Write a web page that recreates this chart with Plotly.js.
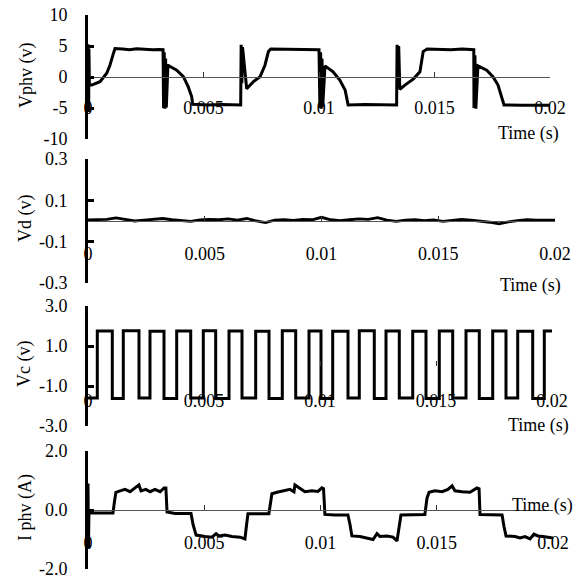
<!DOCTYPE html>
<html>
<head>
<meta charset="utf-8">
<script src="https://cdn.plot.ly/plotly-3.0.1.min.js"></script>
<style>html,body{margin:0;padding:0;background:#fff;}#chart{width:584px;height:579px;}</style>
</head>
<body>
<div id="chart"></div>
<script>
// ---------- data ----------
const xTickVals = [0, 0.005, 0.01, 0.015, 0.02];
const xTickText = ['0', '0.005', '0.01', '0.015', '0.02'];

const yTitles = ['Vphv (v)', 'Vd (v)', 'Vc (v)', 'I phv (A)'];
const xTitle = 'Time (s)';

const vphvTickVals = [-10, -5, 0, 5, 10];
const vphvTickText = ['-10', '-5', '0', '5', '10'];
const vdTickVals = [-0.3, -0.1, 0.1, 0.3];
const vdTickText = ['-0.3', '-0.1', '0.1', '0.3'];
const vcTickVals = [-3, -1, 1, 3];
const vcTickText = ['-3.0', '-1.0', '1.0', '3.0'];
const iTickVals = [-2, 0, 2];
const iTickText = ['-2.0', '0.0', '2.0'];

// Phase voltage Vphv (v)
const vphvT = [0, 0.00001, 0.00002, 0.00003, 0.00004, 0.00006, 0.00016, 0.00052, 0.00081, 0.00095, 0.0011, 0.00117,
  0.0015, 0.0018, 0.0021, 0.0024, 0.0028, 0.0031, 0.00325, 0.00327, 0.0033, 0.00333, 0.00336, 0.00339,
  0.00346, 0.00384, 0.00413, 0.00434, 0.00449, 0.00453, 0.0052, 0.0058, 0.0065, 0.00661,
  0.00663, 0.00666, 0.00669, 0.00687, 0.00716, 0.00745, 0.00766, 0.00781, 0.00791,
  0.0085, 0.009, 0.0095, 0.01, 0.01004, 0.01007, 0.0101, 0.01013, 0.01016, 0.01026,
  0.01061, 0.0109, 0.01113, 0.0112, 0.01126, 0.012, 0.0128, 0.01336,
  0.01338, 0.01342, 0.01345, 0.0135, 0.01372, 0.01409, 0.01437, 0.01445, 0.01451, 0.01468,
  0.0152, 0.0157, 0.0162, 0.0167, 0.01671, 0.01675, 0.01679, 0.01683, 0.01688,
  0.01726, 0.01753, 0.01775, 0.01791, 0.01801, 0.0188, 0.0195, 0.02];
const vphvV = [5.3, -5.6, 5.0, -5.4, 4.6, -1.3, -1.3, -0.75, 0.6, 1.9, 3.8, 4.6,
  4.5, 4.4, 4.55, 4.45, 4.4, 4.45, 4.4, -5.0, 4.0, -5.1, 3.0, -4.9,
  1.9, 1.1, 0.05, -1.6, -3.2, -4.4, -4.5, -4.45, -4.5, -4.5,
  5.2, -1.0, 4.8, -1.9, -0.75, 0.05, 1.9, 4.1, 4.5,
  4.5, 4.4, 4.5, 4.4, -5.0, 4.0, -5.1, 3.0, -4.8, 1.8,
  0.85, -0.5, -2.1, -3.7, -4.5, -4.45, -4.5, -4.5,
  5.2, -1.0, 5.0, -2.0, -1.3, -0.3, 0.85, 2.5, 4.1, 4.5,
  4.45, 4.4, 4.5, 4.4, -5.0, 3.5, -5.1, -2.0, 1.8,
  1.1, 0.05, -1.3, -3.2, -4.5, -4.55, -4.5, -4.55];

// Vd (v)
const vdT = [0, 0.0004, 0.0008, 0.0012, 0.0016, 0.002, 0.0024, 0.0028, 0.0032, 0.0036,
  0.004, 0.0044, 0.0048, 0.0052, 0.0056, 0.006, 0.0064, 0.0068, 0.0072, 0.0076,
  0.008, 0.0084, 0.0088, 0.0092, 0.0096, 0.01, 0.0104, 0.0108, 0.0112, 0.0116,
  0.012, 0.0124, 0.0128, 0.0132, 0.0136, 0.014, 0.0144, 0.0148, 0.0152, 0.0156,
  0.016, 0.0164, 0.0168, 0.0172, 0.0176, 0.018, 0.0184, 0.0188, 0.0192, 0.0196, 0.02];
const vdV = [0.005, 0.005, 0.008, 0.015, 0.006, 0.0, 0.004, 0.008, 0.012, 0.006,
  0.002, -0.002, 0.005, 0.008, 0.006, 0.01, 0.004, 0.012, 0.0, -0.008,
  0.004, 0.006, 0.003, 0.008, 0.006, 0.018, 0.006, 0.002, 0.006, 0.01,
  0.008, 0.016, 0.004, -0.002, 0.004, 0.006, 0.002, 0.005, -0.002, 0.004,
  0.008, 0.004, 0.0, -0.006, -0.014, -0.004, 0.002, 0.006, 0.004, 0.003, 0.004];

// Vc (v) — switching instants and levels (drawn as steps)
const vcT = [0, 0.000401, 0.001047, 0.001521, 0.002198, 0.002672, 0.003276, 0.003823, 0.004427, 0.00497,
  0.005504, 0.006078, 0.006638, 0.007228, 0.007802, 0.008375, 0.008953, 0.009526, 0.010043, 0.010547,
  0.011207, 0.011694, 0.01234, 0.012845, 0.013418, 0.013996, 0.014569, 0.015142, 0.01572, 0.016293,
  0.016866, 0.017444, 0.018017, 0.018522, 0.019168, 0.019668, 0.02];
const vcV = [-1.6, 1.75, -1.62, 1.76, -1.6, 1.74, -1.62, 1.75, -1.6, 1.76,
  -1.63, 1.75, -1.6, 1.74, -1.62, 1.76, -1.6, 1.75, -1.62, 1.74,
  -1.6, 1.76, -1.62, 1.75, -1.6, 1.74, -1.63, 1.75, -1.6, 1.76,
  -1.62, 1.75, -1.6, 1.74, -1.62, 1.75, 1.75];

// I phv (A)
const iT = [0, 0.00002, 0.00004, 0.00013, 0.001075, 0.00114, 0.0012, 0.00138, 0.00159, 0.00181, 0.00202, 0.00219,
  0.00228, 0.00249, 0.00267, 0.00288, 0.0031, 0.00327, 0.00335, 0.0034, 0.00374, 0.00443, 0.00452, 0.00465,
  0.00503, 0.00533, 0.00551, 0.00563, 0.00589, 0.00619, 0.00654, 0.00675, 0.00682, 0.00688, 0.00778,
  0.00785, 0.00791, 0.00813, 0.00839, 0.00869, 0.00886, 0.0089, 0.00933, 0.00963, 0.00989, 0.01006,
  0.01013, 0.01019, 0.01062, 0.01118, 0.01127, 0.01135, 0.0117, 0.01204, 0.01226, 0.01243, 0.01256,
  0.01286, 0.01312, 0.01329, 0.01338, 0.01346, 0.01449, 0.01458, 0.01467, 0.01492, 0.01523, 0.01548,
  0.01566, 0.01578, 0.01609, 0.01643, 0.01673, 0.01682, 0.01686, 0.01729, 0.01781, 0.01789, 0.01798,
  0.01837, 0.01858, 0.0188, 0.01901, 0.01918, 0.01935, 0.01957, 0.01978, 0.02];
const iV = [0.9, -1.3, -0.1, -0.1, -0.1, 0.3, 0.6, 0.65, 0.7, 0.62, 0.75, 0.85,
  0.65, 0.7, 0.62, 0.7, 0.62, 0.75, 0.75, -0.07, -0.12, -0.12, -0.5, -0.85,
  -0.9, -0.92, -0.8, -0.88, -0.85, -0.9, -0.92, -0.98, -0.5, -0.13, -0.13,
  0.35, 0.55, 0.6, 0.65, 0.7, 0.62, 0.85, 0.62, 0.65, 0.63, 0.75,
  0.72, -0.15, -0.17, -0.17, -0.5, -0.88, -0.9, -0.95, -1.0, -0.8, -0.9,
  -0.88, -0.92, -1.05, -0.5, -0.17, -0.15, 0.4, 0.6, 0.65, 0.62, 0.7,
  0.82, 0.65, 0.62, 0.6, 0.75, 0.72, -0.15, -0.17, -0.17, -0.55, -0.88,
  -0.9, -0.95, -0.9, -0.98, -0.82, -0.88, -0.9, -0.93, -0.95];

// ---------- layout helpers ----------
const W = 584, H = 579;
const FONT = 'Liberation Serif, Times New Roman, serif';
const px2fx = p => p / W;
const px2fy = p => 1 - p / H;

// panel boxes in pixels: [left, right, top, bottom]
const boxes = [[88, 550, 15, 139], [88, 555, 159, 283], [88, 552, 306, 426], [88, 553, 451, 569]];
const yRanges = [[-10, 10], [-0.3, 0.3], [-3, 3], [-2, 2]];
const yTicks = [[vphvTickVals, vphvTickText], [vdTickVals, vdTickText], [vcTickVals, vcTickText], [iTickVals, iTickText]];
const xStandoff = [14, 16, 22, 16];
const showXLine = [true, true, false, true];
const timePos = [[528, 133], [530, 285], [538, 425], [542, 505]];
const yTitlePos = [[26, 75], [26, 218], [24, 364], [25, 508]];

const traces = [
  {x: vphvT, y: vphvV, xaxis: 'x', yaxis: 'y', mode: 'lines', line: {color: '#000', width: 3}},
  {x: vdT, y: vdV, xaxis: 'x2', yaxis: 'y2', mode: 'lines', line: {color: '#000', width: 2.8}},
  {x: vcT, y: vcV, xaxis: 'x3', yaxis: 'y3', mode: 'lines', line: {color: '#000', width: 3, shape: 'hv'}},
  {x: iT, y: iV, xaxis: 'x4', yaxis: 'y4', mode: 'lines', line: {color: '#000', width: 3}}
];

const layout = {
  width: W, height: H,
  margin: {l: 0, r: 0, t: 0, b: 0},
  paper_bgcolor: '#fff', plot_bgcolor: 'rgba(0,0,0,0)',
  showlegend: false,
  font: {family: FONT, size: 18, color: '#000'},
  annotations: []
};

boxes.forEach((b, i) => {
  const n = i === 0 ? '' : String(i + 1);
  const yd = [px2fy(b[3]), px2fy(b[2])];
  layout['xaxis' + n] = {
    domain: [px2fx(b[0]), px2fx(b[1])],
    range: [0, 0.02],
    anchor: 'free',
    position: (yd[0] + yd[1]) / 2,
    tickmode: 'array', tickvals: xTickVals, ticktext: xTickText,
    ticks: 'inside', ticklen: 5, tickwidth: 1, tickcolor: '#333',
    showline: showXLine[i], linecolor: '#555', linewidth: 1,
    showgrid: false, zeroline: false,
    ticklabelstandoff: xStandoff[i],
    ticklabeloverflow: 'allow',
    tickfont: {family: FONT, size: 18, color: '#000'},
    fixedrange: true
  };
  layout['yaxis' + n] = {
    domain: yd,
    range: yRanges[i],
    anchor: 'x' + n,
    tickmode: 'array', tickvals: yTicks[i][0], ticktext: yTicks[i][1],
    ticks: 'inside', ticklen: 6, tickwidth: 3, tickcolor: '#000',
    showline: true, linecolor: '#000', linewidth: 3,
    showgrid: false, zeroline: false,
    ticklabelstandoff: 14,
    ticklabeloverflow: 'allow',
    tickfont: {family: FONT, size: 18, color: '#000'},
    fixedrange: true
  };
  layout.annotations.push({
    text: xTitle, xref: 'paper', yref: 'paper',
    x: px2fx(timePos[i][0]), y: px2fy(timePos[i][1]),
    xanchor: 'center', yanchor: 'middle', showarrow: false,
    font: {family: FONT, size: 18, color: '#000'}
  });
  layout.annotations.push({
    text: yTitles[i], xref: 'paper', yref: 'paper',
    x: px2fx(yTitlePos[i][0]), y: px2fy(yTitlePos[i][1]),
    xanchor: 'center', yanchor: 'middle', textangle: -90, showarrow: false,
    font: {family: FONT, size: 18, color: '#000'}
  });
});

Plotly.newPlot('chart', traces, layout, {displayModeBar: false, staticPlot: true});
</script>
</body>
</html>
